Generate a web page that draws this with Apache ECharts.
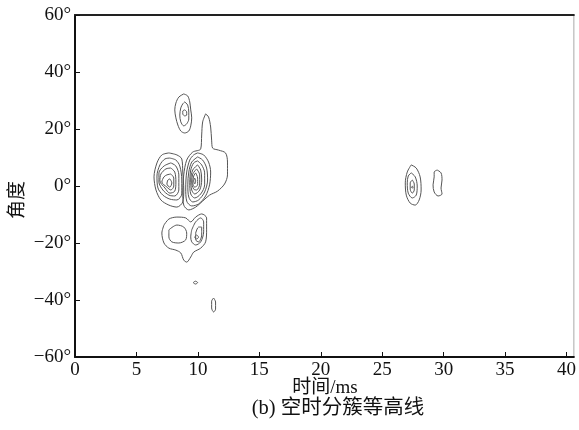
<!DOCTYPE html>
<html>
<head>
<meta charset="utf-8">
<script src="https://cdn.jsdelivr.net/npm/echarts@6/dist/echarts.min.js"></script>
<style>
  html, body { margin: 0; padding: 0; background: #fff; }
  #chart { width: 579px; height: 430px; }
</style>
</head>
<body>
<div id="chart"></div>
<script>
// Axis ticks
const timeTicks = [0, 5, 10, 15, 20, 25, 30, 35, 40];
const angleTicks = [-60, -40, -20, 0, 20, 40, 60];

// Contour rings, each a closed list of [time (ms), angle (deg)]
const clusterUpper = [
  [[8.85,32.3],[9.17,31.6],[9.34,29.5],[9.42,26.7],[9.50,23.9],[9.42,21.1],[9.26,19.3],[8.93,18.6],[8.61,19.3],[8.37,21.4],[8.21,23.9],[8.12,26.7],[8.21,29.1],[8.45,31.2]],
  [[8.93,29.5],[9.17,28.4],[9.26,25.9],[9.26,23.5],[9.09,21.8],[8.85,21.1],[8.61,22.5],[8.53,24.9],[8.61,27.4],[8.77,28.8]],
  [[8.93,26.7],[9.09,26.0],[9.09,24.9],[8.93,24.6],[8.77,25.3],[8.77,26.3]]
];

const clusterCore = [
  [[10.63,25.3],[10.87,24.2],[11.04,20.7],[11.12,16.1],[11.20,13.3],[11.68,12.6],[12.25,11.6],[12.41,8.4],[12.41,3.9],[12.17,0.7],[11.60,-1.8],[10.95,-3.2],[10.39,-5.3],[9.82,-7.4],[9.26,-8.4],[8.85,-6.7],[8.77,-2.1],[8.85,3.9],[9.09,9.1],[9.58,11.9],[10.23,13.0],[10.31,17.9],[10.39,22.5]],
  [[9.98,11.6],[10.47,10.9],[10.87,8.4],[11.04,4.9],[10.95,0.4],[10.63,-3.5],[10.06,-6.3],[9.50,-7.0],[9.09,-5.3],[9.01,-0.7],[9.09,4.9],[9.34,9.1],[9.66,10.9]],
  [[9.98,10.2],[10.39,9.1],[10.71,6.3],[10.79,2.1],[10.55,-2.1],[10.06,-4.9],[9.58,-5.6],[9.26,-3.9],[9.18,0.4],[9.26,4.9],[9.50,8.4]],
  [[9.98,8.8],[10.31,7.4],[10.55,4.6],[10.55,0.4],[10.23,-2.8],[9.74,-4.2],[9.42,-2.8],[9.34,1.1],[9.42,5.6],[9.66,8.1]],
  [[9.98,7.4],[10.23,5.6],[10.31,2.1],[10.15,-1.4],[9.74,-2.8],[9.50,-1.4],[9.42,2.1],[9.58,5.6]],
  [[9.90,6.0],[10.15,3.9],[10.15,0.7],[9.90,-1.4],[9.66,-1.1],[9.50,1.4],[9.58,4.2]],
  [[9.82,4.6],[9.98,2.8],[9.98,0.4],[9.74,-0.4],[9.58,1.1],[9.66,3.5]],
  [[9.74,2.8],[9.82,1.8],[9.74,0.7],[9.66,1.8]]
];

const clusterLeft = [
  [[7.64,11.6],[8.29,10.9],[8.69,9.5],[8.77,4.9],[8.85,-1.4],[8.77,-5.6],[8.29,-7.4],[7.64,-6.7],[6.99,-4.9],[6.59,-1.4],[6.43,3.2],[6.67,8.1],[7.07,10.9]],
  [[7.72,9.8],[8.21,9.1],[8.53,7.0],[8.69,2.1],[8.69,-2.8],[8.29,-4.9],[7.72,-4.6],[7.15,-3.2],[6.75,-0.7],[6.67,3.5],[6.91,7.4],[7.32,9.5]],
  [[7.80,8.1],[8.21,7.0],[8.45,3.9],[8.45,-1.4],[8.12,-3.5],[7.64,-3.2],[7.15,-1.4],[6.83,1.4],[6.83,4.6],[7.24,7.0]],
  [[7.80,6.3],[8.12,4.9],[8.21,1.4],[8.12,-1.8],[7.72,-2.5],[7.32,-0.7],[6.91,1.8],[6.99,4.2],[7.40,6.0]],
  [[7.80,4.2],[8.04,2.8],[8.04,0.0],[7.80,-1.4],[7.48,-0.4],[7.07,1.4],[7.24,3.2],[7.48,3.9]],
  [[7.72,2.5],[7.88,1.1],[7.72,-0.4],[7.48,0.7],[7.56,2.1]]
];

const clusterLower = [
  [[7.24,-13.7],[7.64,-11.6],[8.29,-10.9],[9.01,-11.2],[9.42,-12.6],[9.82,-10.9],[10.31,-9.8],[10.71,-11.2],[10.71,-15.4],[10.63,-19.6],[10.23,-21.8],[9.66,-23.2],[9.42,-24.9],[9.09,-26.7],[8.85,-26.0],[8.61,-23.5],[8.21,-22.5],[7.64,-21.8],[7.24,-20.0],[7.07,-16.5]],
  [[7.64,-15.4],[8.29,-13.7],[8.85,-14.4],[9.09,-16.5],[9.01,-18.9],[8.45,-20.0],[7.88,-19.6],[7.64,-17.9]],
  [[9.50,-15.4],[9.82,-12.6],[10.23,-11.2],[10.47,-12.6],[10.47,-16.1],[10.23,-19.6],[9.82,-20.7],[9.50,-19.6],[9.42,-17.9]],
  [[9.82,-16.5],[10.06,-14.4],[10.31,-14.4],[10.31,-17.2],[10.06,-19.6],[9.82,-18.9]],
  [[9.90,-17.2],[10.06,-17.9],[9.90,-18.6],[9.74,-17.9]]
];

const clusterSmall = [
  [[9.62,-33.9],[9.80,-33.4],[9.98,-33.9],[9.80,-34.4]],
  [[11.28,-39.3],[11.44,-40.7],[11.44,-43.2],[11.28,-44.2],[11.12,-42.8],[11.12,-40.4]]
];

const clusterLate = [
  [[27.36,7.4],[27.77,6.3],[28.09,3.2],[28.17,-1.4],[28.01,-4.9],[27.69,-6.7],[27.28,-6.0],[26.96,-3.2],[26.88,1.1],[27.04,4.9]],
  [[27.36,4.6],[27.69,3.2],[27.85,0.0],[27.77,-3.2],[27.45,-4.2],[27.12,-2.5],[27.04,1.1],[27.12,3.5]],
  [[27.45,2.1],[27.61,0.7],[27.61,-1.4],[27.45,-2.5],[27.28,-1.1],[27.28,1.1]],
  [[27.45,-0.1],[27.53,-0.4],[27.45,-0.7],[27.37,-0.4]],
  [[29.47,5.6],[29.79,4.6],[29.87,2.1],[29.79,-0.7],[29.87,-2.8],[29.55,-3.5],[29.23,-2.1],[29.14,0.4],[29.23,3.2],[29.23,4.9]]
];

const allRings = [].concat(clusterUpper, clusterCore, clusterLeft, clusterLower, clusterSmall, clusterLate);

const serifFont = '"Liberation Serif", "Times New Roman", serif';
const cjkFont = '"Liberation Serif", "Noto Sans CJK SC", serif';

const series = allRings.map(ring => ({
  type: 'line',
  data: ring.concat([ring[0]]),
  smooth: 0.3,
  showSymbol: false,
  silent: true,
  lineStyle: { color: '#555', width: 1 },
  xAxisIndex: 0,
  yAxisIndex: 0
}));

const chart = echarts.init(document.getElementById('chart'), null, { renderer: 'canvas' });
chart.setOption({
  animation: false,
  backgroundColor: '#fff',
  grid: {
    left: 75, right: 1, top: 15, bottom: 73,
    show: true, borderColor: '#aaa', borderWidth: 1, backgroundColor: 'transparent'
  },
  xAxis: [{
    type: 'value', min: 0, max: 40.6, interval: 5,
    splitLine: { show: false },
    axisLine: { onZero: false, lineStyle: { color: '#111', width: 2 } },
    axisTick: { inside: true, length: 5, customValues: timeTicks, lineStyle: { color: '#111', width: 1 } },
    axisLabel: {
      customValues: timeTicks, margin: 4,
      color: '#111', fontSize: 19, fontFamily: serifFont
    }
  }, {
    type: 'value', position: 'top', min: 0, max: 40.6,
    splitLine: { show: false },
    axisLine: { onZero: false, lineStyle: { color: '#222', width: 2 } },
    axisTick: { show: false },
    axisLabel: { show: false }
  }],
  yAxis: {
    type: 'value', min: -60, max: 60, interval: 20,
    splitLine: { show: false },
    axisLine: { onZero: false, lineStyle: { color: '#111', width: 2 } },
    axisTick: { inside: true, length: 5, lineStyle: { color: '#111', width: 1 } },
    axisLabel: {
      margin: 4, color: '#111', fontSize: 19, fontFamily: serifFont,
      formatter: v => (v < 0 ? '\u2212' + Math.abs(v) : String(v)) + '°'
    }
  },
  graphic: [
    {
      type: 'text', x: 18, y: 200, rotation: Math.PI / 2,
      style: { text: '角度', fontSize: 19, fontFamily: cjkFont, fill: '#111', align: 'center', verticalAlign: 'middle' }
    },
    {
      type: 'text', x: 325, y: 388,
      style: { text: '时间/ms', fontSize: 19, fontFamily: cjkFont, fill: '#111', align: 'center', verticalAlign: 'middle' }
    },
    {
      type: 'text', x: 338, y: 409,
      style: { text: '(b) 空时分簇等高线', fontSize: 20.5, fontFamily: cjkFont, fill: '#111', align: 'center', verticalAlign: 'middle' }
    }
  ],
  series: series
});
</script>
</body>
</html>
